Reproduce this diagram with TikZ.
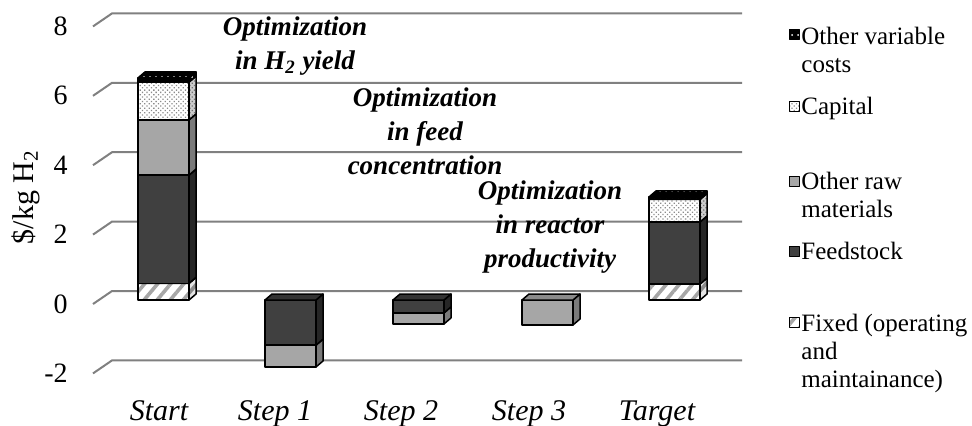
\documentclass[tikz,border=0pt]{standalone}
\usepackage{fontspec}
\setmainfont{Liberation Serif}
\usetikzlibrary{patterns,patterns.meta}

% looks of the cost blocks: front, side and top face for each kind
\tikzset{
  block/.style={draw=black, line width=0.75pt, line join=round},
  fixedfront/.style={block, preaction={fill=white}, pattern={Lines[angle=50,distance=5pt,line width=1.8pt]}, pattern color=black!35},
  fixedside/.style={block, preaction={fill=black!10}, pattern={Lines[angle=50,distance=5pt,line width=1.8pt]}, pattern color=black!45},
  fixedtop/.style={fixedside},
  feedfront/.style={block, fill=black!75},
  feedside/.style={block, fill=black!85},
  feedtop/.style={block, fill=black!80},
  rawfront/.style={block, fill=black!35},
  rawside/.style={block, fill=black!52},
  rawtop/.style={block, fill=black!45},
  capitalfront/.style={block, preaction={fill=white}, pattern={Dots[radius=0.45pt,distance=1.6pt,angle=45]}, pattern color=black!45},
  capitalside/.style={block, preaction={fill=black!20}, pattern={Dots[radius=0.45pt,distance=1.6pt,angle=45]}, pattern color=black!55},
  capitaltop/.style={capitalside},
  otherfront/.style={block, preaction={fill=black}, pattern={Dots[radius=0.5pt,distance=3pt]}, pattern color=white},
  otherside/.style={otherfront},
  othertop/.style={otherfront},
}

% one block of a stacked column: #1 left x, #2 bottom, #3 top, #4 kind
\newcommand{\costseg}[4]{%
  \draw[#4front] (#1,#2) rectangle (#1+51,#3);
  \draw[#4side] (#1+51,#2) -- ++(7,0.173) -- (#1+58,#3+0.173) -- (#1+51,#3) -- cycle;
  \draw[#4top] (#1,#3) -- ++(7,0.173) -- (#1+58,#3+0.173) -- (#1+51,#3) -- cycle;
}

\begin{document}
\begin{tikzpicture}[x=0.5pt,y=-0.5pt,
  gridline/.style={draw=black!50, line width=1pt},
  tick/.style={font=\fontsize{14}{16}\selectfont, anchor=east, inner sep=0pt},
  catlabel/.style={font=\fontsize{15}{17}\selectfont\itshape, anchor=base, inner sep=0pt},
  optnote/.style={font=\fontsize{13.5}{17}\selectfont\bfseries\itshape, align=center, inner sep=0pt},
  keybox/.style={minimum size=5pt, inner sep=0pt, line width=0.5pt},
  keytext/.style={font=\fontsize{12.5}{14}\selectfont, align=left, anchor=north west, inner sep=0pt}]
\useasboundingbox (0,0) rectangle (972,425);

% back wall with gridlines and the scale
\foreach \v in {-2,0,...,8} {
  \draw[gridline] (93,{304-34.7*\v}) -- (112,{291-34.7*\v}) -- (742,{291-34.7*\v});
  \node[tick] (tick\v) at (68,{304-34.7*\v}) {\v};
}
\node[rotate=90, font=\fontsize{15}{17}\selectfont] (ytitle) at (26,197) {\$/kg H\textsubscript{2}};

% stacked columns
\begin{scope}[yshift=-150pt, y=17.35pt]
  % Start
  \costseg{138}{0}{0.48}{fixed}
  \costseg{138}{0.48}{3.60}{feed}
  \costseg{138}{3.60}{5.19}{raw}
  \costseg{138}{5.19}{6.28}{capital}
  \costseg{138}{6.28}{6.40}{other}
  % Step 1
  \costseg{265}{-1.93}{-1.30}{raw}
  \costseg{265}{-1.30}{0}{feed}
  % Step 2
  \costseg{393}{-0.69}{-0.37}{raw}
  \costseg{393}{-0.37}{0}{feed}
  % Step 3
  \costseg{522}{-0.72}{0}{raw}
  % Target
  \costseg{649}{0}{0.46}{fixed}
  \costseg{649}{0.46}{2.25}{feed}
  \costseg{649}{2.25}{2.90}{capital}
  \costseg{649}{2.90}{2.97}{other}
\end{scope}

% category names
\node[catlabel] (cstart) at (159,420) {Start};
\node[catlabel] (cstep1) at (275,420) {Step 1};
\node[catlabel] (cstep2) at (401,420) {Step 2};
\node[catlabel] (cstep3) at (529,420) {Step 3};
\node[catlabel] (ctarget) at (657,420) {Target};

% notes over the columns
\node[optnote] (optyield) at (295,46) {Optimization\\in H\textsubscript{2} yield};
\node[optnote] (optfeed) at (425,131) {Optimization\\in feed\\concentration};
\node[optnote] (optreactor) at (550,227) {Optimization\\in reactor\\productivity};

% legend
\node[keybox, otherfront, line width=0.5pt] (keyother) at (794,34) {};
\node[keybox, capitalfront, line width=0.5pt] (keycapital) at (794,106) {};
\node[keybox, rawfront, line width=0.5pt] (keyraw) at (794,181) {};
\node[keybox, feedfront, line width=0.5pt] (keyfeed) at (794,251) {};
\node[keybox, fixedfront, line width=0.5pt] (keyfixed) at (794,322) {};
\node[keytext] (txtother) at (801,26.5) {Other variable\\costs};
\node[keytext] (txtcapital) at (801,96.5) {Capital};
\node[keytext] (txtraw) at (801,171.5) {Other raw\\materials};
\node[keytext] (txtfeed) at (801,241.5) {Feedstock};
\node[keytext] (txtfixed) at (801,313.5) {Fixed (operating\\and\\maintainance)};
\end{tikzpicture}
\end{document}
